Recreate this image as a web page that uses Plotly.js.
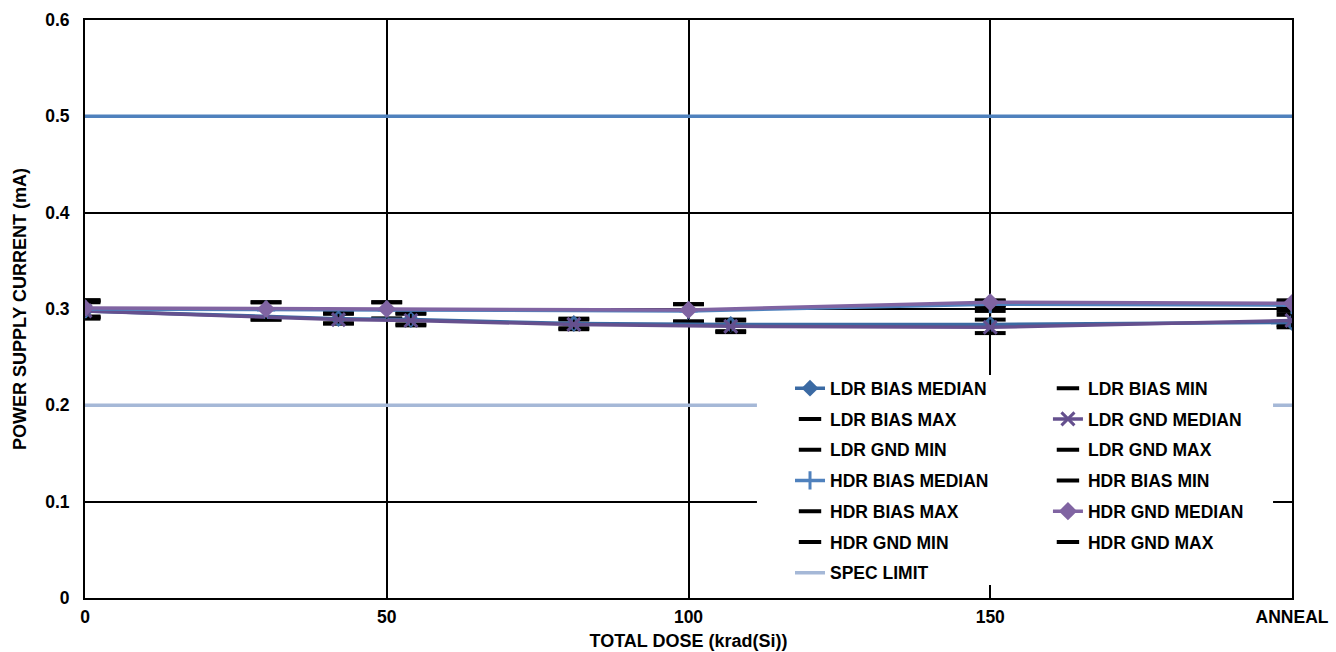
<!DOCTYPE html>
<html><head><meta charset="utf-8">
<script src="https://cdn.plot.ly/plotly-3.0.1.min.js"></script>
<style>html,body{margin:0;padding:0;background:#fff}#chart{width:1336px;height:652px}</style>
</head><body><div id="chart"></div>
<script>
// ---- data ----
const ldrDose = [0, 42, 54, 81, 107, 150, 200];
const hdrDose = [0, 30, 50, 100, 150, 200];

const ldrBiasMedian = [0.298, 0.290, 0.289, 0.285, 0.284, 0.284, 0.286];
const ldrBiasMin    = [0.291, 0.285, 0.284, 0.280, 0.277, 0.283, 0.283];
const ldrBiasMax    = [0.308, 0.296, 0.296, 0.290, 0.289, 0.298, 0.294];
const ldrGndMedian  = [0.298, 0.289, 0.288, 0.284, 0.282, 0.281, 0.288];
const ldrGndMin     = [0.290, 0.285, 0.283, 0.279, 0.276, 0.275, 0.281];
const ldrGndMax     = [0.307, 0.295, 0.295, 0.289, 0.288, 0.289, 0.298];

const hdrBiasMedian = [0.300, 0.299, 0.299, 0.298, 0.305, 0.304];
const hdrBiasMin    = [0.292, 0.289, 0.290, 0.287, 0.303, 0.302];
const hdrBiasMax    = [0.309, 0.307, 0.307, 0.305, 0.308, 0.307];
const hdrGndMedian  = [0.301, 0.300, 0.300, 0.299, 0.307, 0.306];
const hdrGndMin     = [0.292, 0.289, 0.290, 0.287, 0.304, 0.303];
const hdrGndMax     = [0.309, 0.307, 0.307, 0.305, 0.309, 0.309];

const specRange = [0, 200];
const specLimitLow = [0.2, 0.2];
const specLimitHigh = [0.5, 0.5];

const xTickVals = [0, 50, 100, 150, 200];
const xTickText = ['0', '50', '100', '150', 'ANNEAL'];

// ---- styling ----
const FONT = 'Liberation Sans, Arial, sans-serif';
const BLACK = '#000000';
const C_LDR_BIAS = '#3b6aa3';
const C_LDR_GND = '#65508e';
const C_HDR_BIAS = '#4f81bd';
const C_HDR_GND = '#8064a2';
const C_SPEC = '#a5b8d7';

function capTrace(name, x, y, rank, legend) {
  return {
    type: 'scatter', mode: 'markers', name: name, x: x, y: y,
    legend: legend, legendrank: rank, legendgroup: name, hoverinfo: 'skip',
    marker: {symbol: 'line-ew', size: 22, color: BLACK, line: {color: BLACK, width: 4}}
  };
}
function medianTrace(name, x, y, mn, mx, color, symbol, size, open, rank, legend) {
  const marker = open
    ? {symbol: symbol, size: size, color: color, line: {color: color, width: 3}}
    : {symbol: symbol, size: size, color: color, line: {width: 0}};
  return {
    type: 'scatter', mode: 'lines+markers', name: name, x: x, y: y,
    legend: legend, legendrank: rank, legendgroup: name, hoverinfo: 'skip',
    line: {color: color, width: 3.5},
    marker: marker,
    error_y: {
      type: 'data', symmetric: false, visible: true,
      array: mx.map((v, i) => v - y[i]),
      arrayminus: y.map((v, i) => v - mn[i]),
      width: 0, thickness: 1.8, color: BLACK
    }
  };
}

const traces = [
  {type: 'scatter', mode: 'lines', name: 'SPEC LIMIT UPPER', x: specRange, y: specLimitHigh,
   showlegend: false, hoverinfo: 'skip', line: {color: C_HDR_BIAS, width: 3.5}},
  {type: 'scatter', mode: 'lines', name: 'SPEC LIMIT', x: specRange, y: specLimitLow,
   legend: 'legend', legendrank: 7, legendgroup: 'spec', hoverinfo: 'skip', line: {color: C_SPEC, width: 3.5}},

  capTrace('LDR BIAS MIN', ldrDose, ldrBiasMin, 1, 'legend2'),
  capTrace('LDR BIAS MAX', ldrDose, ldrBiasMax, 2, 'legend'),
  capTrace('LDR GND MIN', ldrDose, ldrGndMin, 3, 'legend'),
  capTrace('LDR GND MAX', ldrDose, ldrGndMax, 3, 'legend2'),
  capTrace('HDR BIAS MIN', hdrDose, hdrBiasMin, 4, 'legend2'),
  capTrace('HDR BIAS MAX', hdrDose, hdrBiasMax, 5, 'legend'),
  capTrace('HDR GND MIN', hdrDose, hdrGndMin, 6, 'legend'),
  capTrace('HDR GND MAX', hdrDose, hdrGndMax, 6, 'legend2'),

  medianTrace('LDR BIAS MEDIAN', ldrDose, ldrBiasMedian, ldrBiasMin, ldrBiasMax, C_LDR_BIAS, 'diamond', 13, false, 1, 'legend'),
  medianTrace('LDR GND MEDIAN', ldrDose, ldrGndMedian, ldrGndMin, ldrGndMax, C_LDR_GND, 'x-thin-open', 13, true, 2, 'legend2'),
  medianTrace('HDR BIAS MEDIAN', hdrDose, hdrBiasMedian, hdrBiasMin, hdrBiasMax, C_HDR_BIAS, 'cross-thin-open', 13, true, 4, 'legend'),
  medianTrace('HDR GND MEDIAN', hdrDose, hdrGndMedian, hdrGndMin, hdrGndMax, C_HDR_GND, 'diamond', 14, false, 5, 'legend2')
];

const legendCommon = {
  orientation: 'v', bgcolor: 'rgba(0,0,0,0)', borderwidth: 0,
  font: {family: FONT, size: 17.5, color: BLACK, weight: 'bold'},
  traceorder: 'grouped', tracegroupgap: 5, itemclick: false, itemdoubleclick: false,
  xanchor: 'left', yanchor: 'top', y: 0.394
};

const layout = {
  width: 1336, height: 652,
  margin: {l: 85, r: 44, t: 20, b: 54},
  paper_bgcolor: '#ffffff', plot_bgcolor: '#ffffff',
  font: {family: FONT, size: 17.5, color: BLACK, weight: 'bold'},
  showlegend: true,
  legend: Object.assign({}, legendCommon, {x: 0.5841}),
  legend2: Object.assign({}, legendCommon, {x: 0.7978}),
  xaxis: {
    range: [0, 200], tickmode: 'array', tickvals: xTickVals, ticktext: xTickText,
    showgrid: true, gridcolor: BLACK, gridwidth: 2,
    showline: true, linecolor: BLACK, linewidth: 2, mirror: true,
    zeroline: false, ticks: '', ticklabelstandoff: 2,
    tickfont: {family: FONT, size: 17.5, color: BLACK, weight: 'bold'},
    title: {text: 'TOTAL DOSE (krad(Si))', standoff: 8,
            font: {family: FONT, size: 18, color: BLACK, weight: 'bold'}}
  },
  yaxis: {
    range: [0, 0.6], dtick: 0.1, tick0: 0,
    showgrid: true, gridcolor: BLACK, gridwidth: 2,
    showline: true, linecolor: BLACK, linewidth: 2, mirror: true,
    zeroline: false, ticks: '', ticklabelstandoff: 10,
    tickfont: {family: FONT, size: 17.5, color: BLACK, weight: 'bold'},
    title: {text: 'POWER SUPPLY CURRENT (mA)', standoff: 14,
            font: {family: FONT, size: 18, color: BLACK, weight: 'bold'}}
  },
  shapes: [
    {type: 'rect', xref: 'paper', yref: 'paper', x0: 0.5567, x1: 0.9843, y0: 0.0225, y1: 0.386,
     fillcolor: '#ffffff', line: {width: 0}, layer: 'above'}
  ]
};

Plotly.newPlot('chart', traces, layout, {displayModeBar: false, staticPlot: true});
</script>
</body></html>
